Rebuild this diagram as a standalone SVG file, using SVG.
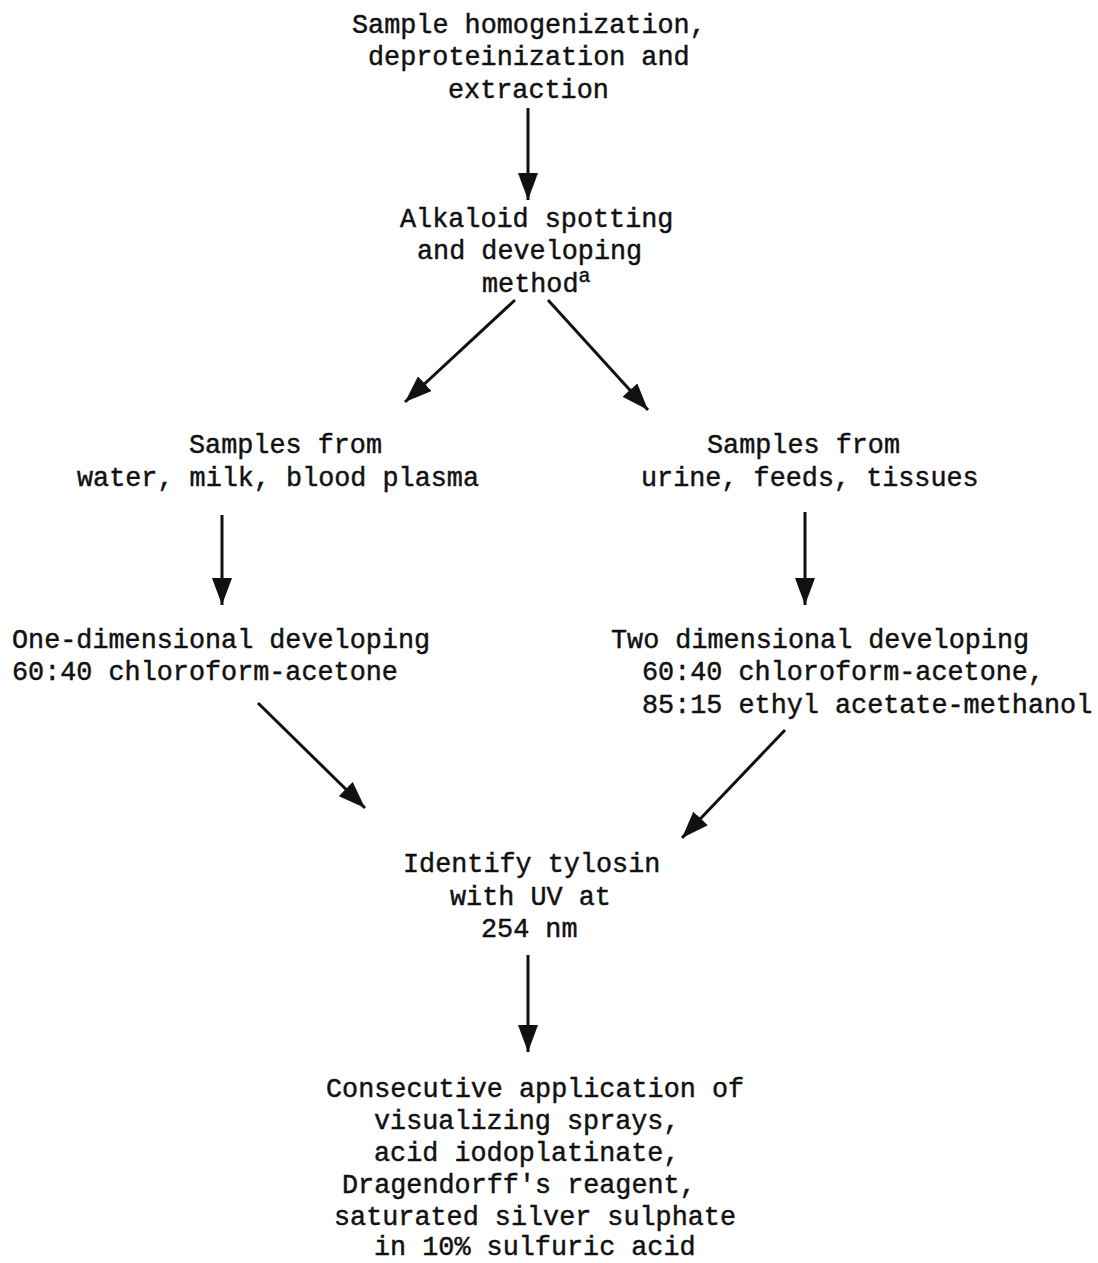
<svg xmlns="http://www.w3.org/2000/svg" width="1098" height="1263" viewBox="0 0 1098 1263">
<style>
text{font-family:"Liberation Mono","Courier New",monospace;font-size:26.8px;fill:#111;stroke:#111;stroke-width:0.45px;}
.c{stroke:#111;stroke-width:3;fill:none;}
</style>
<defs>
<marker id="ah" markerUnits="userSpaceOnUse" markerWidth="28" markerHeight="20" refX="27" refY="10" orient="auto" viewBox="0 0 28 20">
<path d="M0,0 L27,10 L0,20 z" fill="#111"/>
</marker>
</defs>
<rect width="1098" height="1263" fill="#fff"/>
<g id="n1">
<text x="352" y="33">Sample homogenization,</text>
<text x="368" y="65">deproteinization and</text>
<text x="448" y="98">extraction</text>
</g>
<g id="n2">
<text x="400" y="227">Alkaloid spotting</text>
<text x="417" y="259">and developing</text>
<text x="482" y="292">method<tspan font-size="20" dy="-10">a</tspan></text>
</g>
<g id="n3">
<text x="189" y="453">Samples from</text>
<text x="77" y="486">water, milk, blood plasma</text>
</g>
<g id="n4">
<text x="707" y="453">Samples from</text>
<text x="641" y="486">urine, feeds, tissues</text>
</g>
<g id="n5">
<text x="12" y="648">One-dimensional developing</text>
<text x="12" y="680">60:40 chloroform-acetone</text>
</g>
<g id="n6">
<text x="611" y="648">Two dimensional developing</text>
<text x="642" y="680">60:40 chloroform-acetone,</text>
<text x="642" y="713">85:15 ethyl acetate-methanol</text>
</g>
<g id="n7">
<text x="403" y="872">Identify tylosin</text>
<text x="450" y="905">with UV at</text>
<text x="481" y="937">254 nm</text>
</g>
<g id="n8">
<text x="326" y="1097">Consecutive application of</text>
<text x="374" y="1129">visualizing sprays,</text>
<text x="374" y="1161">acid iodoplatinate,</text>
<text x="342" y="1193">Dragendorff's reagent,</text>
<text x="334" y="1225">saturated silver sulphate</text>
<text x="374" y="1255">in 10% sulfuric acid</text>
</g>
<g id="connectors" class="c">
<line class="c" x1="528" y1="108" x2="528" y2="200" marker-end="url(#ah)"/>
<line class="c" x1="515" y1="300" x2="405" y2="402" marker-end="url(#ah)"/>
<line class="c" x1="548" y1="300" x2="648" y2="410" marker-end="url(#ah)"/>
<line class="c" x1="222" y1="515" x2="222" y2="605" marker-end="url(#ah)"/>
<line class="c" x1="805" y1="512" x2="805" y2="605" marker-end="url(#ah)"/>
<line class="c" x1="258" y1="703" x2="365" y2="808" marker-end="url(#ah)"/>
<line class="c" x1="785" y1="730" x2="682" y2="838" marker-end="url(#ah)"/>
<line class="c" x1="528" y1="955" x2="528" y2="1052" marker-end="url(#ah)"/>
</g>
</svg>
